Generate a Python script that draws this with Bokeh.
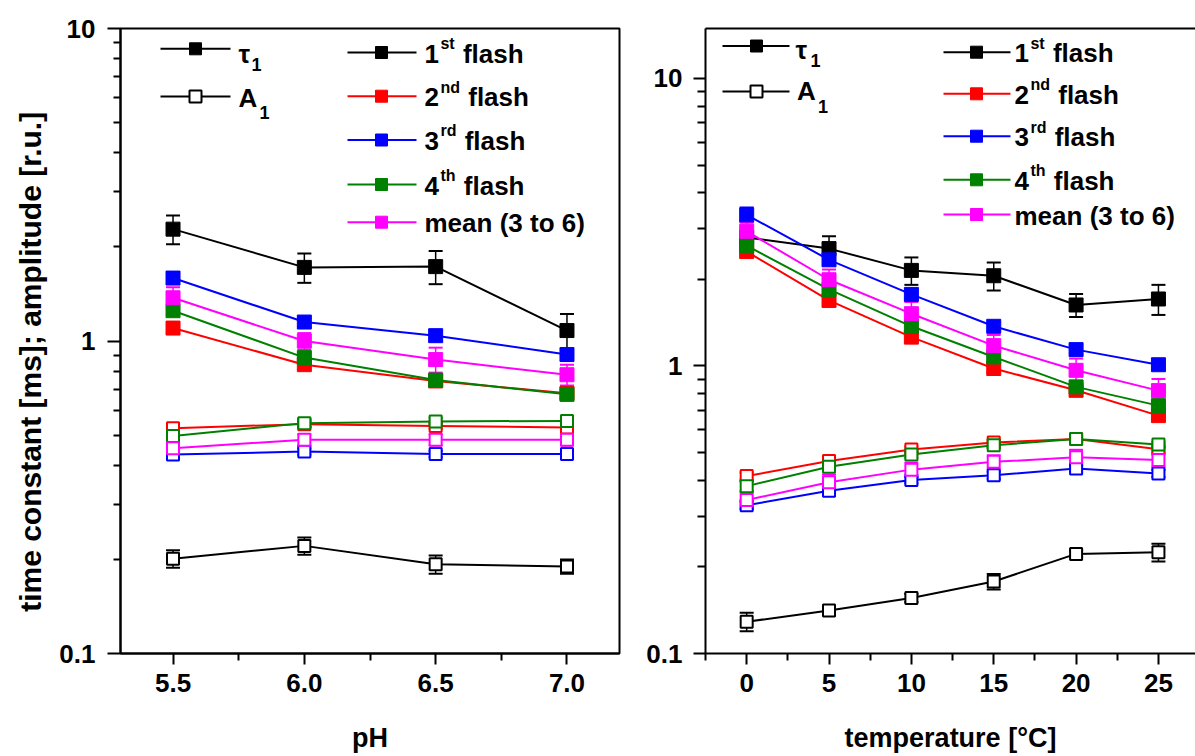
from bokeh.plotting import figure
from bokeh.layouts import row
from bokeh.models import (ColumnDataSource, Whisker, TeeHead, Range1d, FixedTicker,
                          NumeralTickFormatter, LinearAxis, Label, BoxAnnotation)
from bokeh.embed import file_html
from bokeh.resources import INLINE

# ---------------- data: pH dependence ----------------
ph = [5.5, 6.0, 6.5, 7.0]

ph_tau_1 = [2.28, 1.72, 1.73, 1.08]
ph_tau_1_err = [0.24, 0.185, 0.21, 0.14]
ph_tau_2 = [1.10, 0.84, 0.745, 0.68]
ph_tau_2_err = [0.03, 0.03, 0.03, 0.03]
ph_tau_3 = [1.59, 1.15, 1.04, 0.905]
ph_tau_3_err = [0.05, 0.04, 0.04, 0.04]
ph_tau_4 = [1.25, 0.885, 0.75, 0.675]
ph_tau_4_err = [0.04, 0.03, 0.03, 0.03]
ph_tau_mean = [1.375, 1.0, 0.872, 0.78]
ph_tau_mean_err = [0.11, 0.06, 0.08, 0.06]

ph_amp_1 = [0.201, 0.221, 0.193, 0.19]
ph_amp_1_err = [0.013, 0.014, 0.013, 0.010]
ph_amp_2 = [0.526, 0.542, 0.535, 0.529]
ph_amp_2_err = [0.012, 0.012, 0.012, 0.012]
ph_amp_3 = [0.433, 0.443, 0.435, 0.435]
ph_amp_3_err = [0.010, 0.010, 0.010, 0.010]
ph_amp_4 = [0.497, 0.546, 0.553, 0.555]
ph_amp_4_err = [0.015, 0.015, 0.015, 0.015]
ph_amp_mean = [0.454, 0.483, 0.483, 0.483]
ph_amp_mean_err = [0.02, 0.02, 0.02, 0.02]

# ---------------- data: temperature dependence ----------------
temp = [0, 5, 10, 15, 20, 25]

t_tau_1 = [2.80, 2.56, 2.15, 2.06, 1.63, 1.71]
t_tau_1_err = [0.15, 0.265, 0.235, 0.23, 0.15, 0.205]
t_tau_2 = [2.50, 1.69, 1.26, 0.98, 0.823, 0.672]
t_tau_2_err = [0.07, 0.05, 0.04, 0.03, 0.025, 0.02]
t_tau_3 = [3.355, 2.34, 1.774, 1.374, 1.14, 1.01]
t_tau_3_err = [0.2, 0.1, 0.07, 0.05, 0.04, 0.04]
t_tau_4 = [2.62, 1.846, 1.374, 1.075, 0.846, 0.728]
t_tau_4_err = [0.1, 0.07, 0.05, 0.04, 0.03, 0.03]
t_tau_mean = [2.94, 1.995, 1.52, 1.177, 0.966, 0.821]
t_tau_mean_err = [0.23, 0.17, 0.15, 0.105, 0.095, 0.08]

t_amp_1 = [0.129, 0.141, 0.156, 0.178, 0.222, 0.225]
t_amp_1_err = [0.0095, 0.005, 0.005, 0.011, 0.006, 0.016]
t_amp_2 = [0.414, 0.467, 0.512, 0.542, 0.557, 0.513]
t_amp_2_err = [0.012, 0.012, 0.012, 0.012, 0.012, 0.012]
t_amp_3 = [0.328, 0.368, 0.401, 0.417, 0.44, 0.423]
t_amp_3_err = [0.01, 0.01, 0.01, 0.012, 0.012, 0.012]
t_amp_4 = [0.382, 0.446, 0.492, 0.53, 0.557, 0.533]
t_amp_4_err = [0.015, 0.012, 0.012, 0.012, 0.012, 0.012]
t_amp_mean = [0.342, 0.394, 0.436, 0.464, 0.481, 0.471]
t_amp_mean_err = [0.02, 0.025, 0.025, 0.025, 0.03, 0.025]

BLACK, RED, BLUE, GREEN, MAGENTA = "#000000", "#ff0000", "#0000ff", "#008000", "#ff00ff"
FONT = "Liberation Sans"

legend_labels = [("1", "st", "flash"), ("2", "nd", "flash"), ("3", "rd", "flash"),
                 ("4", "th", "flash"), ("mean (3 to 6)", "", "")]
series_colors = [BLACK, RED, BLUE, GREEN, MAGENTA]

# Arial-bold advance widths (em) used to lay out the superscript legend labels
ADV = {"s": .556, "t": .333, "n": .611, "d": .611, "r": .389, "h": .611}
SPACE = .278
BASE_SHIFT = 0.33  # label box offset of an alphabetic baseline, in em


def add_series(p, x, y, err, color, filled):
    lower = [v - e for v, e in zip(y, err)]
    upper = [v + e for v, e in zip(y, err)]
    src = ColumnDataSource(dict(x=x, y=y, lower=lower, upper=upper))
    p.line("x", "y", source=src, line_color=color, line_width=2)
    p.add_layout(Whisker(base="x", upper="upper", lower="lower", source=src,
                         line_color=color, line_width=1.5,
                         upper_head=TeeHead(size=14, line_color=color, line_width=2),
                         lower_head=TeeHead(size=14, line_color=color, line_width=2)))
    if filled:
        p.scatter("x", "y", source=src, marker="square", size=14,
                  fill_color=color, line_color=color, line_width=1)
    else:
        p.scatter("x", "y", source=src, marker="square", size=12,
                  fill_color="white", line_color=color, line_width=2)


def box(p, left, right, bottom, top, **kw):
    p.add_layout(BoxAnnotation(left=left, right=right, bottom=bottom, top=top,
                               left_units="screen", right_units="screen",
                               bottom_units="screen", top_units="screen",
                               fill_alpha=1, line_alpha=1, **kw))


def text(p, fh, x, y, s, size):
    # x from frame left, y (baseline) from frame top
    p.add_layout(Label(x=x, y=fh - y + BASE_SHIFT * size, x_units="screen", y_units="screen",
                       text=s, text_font=FONT, text_font_style="bold",
                       text_font_size=f"{size}px", text_color="black",
                       text_align="left", text_baseline="alphabetic"))


def sample(p, fh, x0, x1, xm, y, color, filled, size=12):
    yb = fh - y
    box(p, x0, x1, yb - 1, yb + 1, fill_color=color, line_color=None)
    h = size / 2
    box(p, xm - h, xm + h, yb - h, yb + h,
        fill_color=color if filled else "white", line_color=color,
        line_width=1 if filled else 2)


def style_axes(p, ytick_out, yminor_out, ystand):
    xa, ya = p.below[0], p.left[0]
    for ax in (xa, ya):
        ax.axis_line_width = 2
        ax.major_tick_line_width = 2
        ax.minor_tick_line_width = 2
        ax.major_tick_in = 0
        ax.minor_tick_in = 0
        ax.major_label_text_font = FONT
        ax.major_label_text_font_style = "bold"
        ax.major_label_text_font_size = "26px"
        ax.major_label_text_color = "black"
        ax.axis_label_text_font = FONT
        ax.axis_label_text_font_style = "bold"
        ax.axis_label_text_color = "black"
    xa.major_tick_out = 11
    xa.minor_tick_out = 7
    xa.major_label_standoff = 9
    xa.axis_label_text_font_size = "27px"
    xa.axis_label_standoff = 28
    ya.major_tick_out = ytick_out
    ya.minor_tick_out = yminor_out
    ya.major_label_standoff = ystand
    ya.ticker = FixedTicker(ticks=[0.1, 1, 10],
                            minor_ticks=[0.2, 0.3, 0.4, 0.5, 0.6, 0.7, 0.8, 0.9,
                                         2, 3, 4, 5, 6, 7, 8, 9])
    ya.formatter = NumeralTickFormatter(format="0.[0]")
    p.grid.visible = False
    return xa, ya


def draw_legends(p, fh, lg):
    # tau / amplitude key
    sample(p, fh, *lg["key_line"], lg["key_tau_y"], BLACK, True)
    sample(p, fh, *lg["key_line"], lg["key_amp_y"], BLACK, False)
    tx, ty, sx, sy = lg["tau_text"]
    text(p, fh, tx, ty, "τ", 26)
    text(p, fh, sx, sy, "1", 18)
    tx, ty, sx, sy = lg["amp_text"]
    text(p, fh, tx, ty, "A", 26)
    text(p, fh, sx, sy, "1", 18)
    # flash key
    fs, ss = 26, 16
    for (num, sup, rest), color, y in zip(legend_labels, series_colors, lg["rows"]):
        sample(p, fh, *lg["flash_line"], y, color, True)
        base = y + 9.6
        x = lg["flash_text"]
        text(p, fh, x, base, num, fs)
        if sup:
            xs = x + 0.556 * fs + 1.5
            text(p, fh, xs, base - 13.5, sup, ss)
            xf = xs + sum(ADV[c] for c in sup) * ss + SPACE * fs + 1
            text(p, fh, xf, base, rest, fs)


FH = 626

# ---------------- left panel: pH ----------------
# trailing no-break spaces push the vertical title a little below the frame's middle
y_title = "time constant [ms]; amplitude [r.u.]" + "\u00a0" * 5
p1 = figure(width=643, height=756, x_range=Range1d(5.3, 7.2), y_range=Range1d(0.1, 10),
            y_axis_type="log", output_backend="svg", toolbar_location=None, title=None,
            min_border_left=120, min_border_right=24, min_border_top=27, min_border_bottom=103,
            x_axis_label="pH", y_axis_label=y_title)
p1.outline_line_color = "black"
p1.outline_line_width = 2
p1.outline_line_alpha = 1
xa1, ya1 = style_axes(p1, 13, 7, 12)
xa1.ticker = FixedTicker(ticks=ph, minor_ticks=[5.75, 6.25, 6.75])
xa1.formatter = NumeralTickFormatter(format="0.0")
ya1.axis_label_text_font_size = "30px"
ya1.axis_label_standoff = 9

ph_sets = [(ph_amp_1, ph_amp_1_err, ph_tau_1, ph_tau_1_err),
           (ph_amp_2, ph_amp_2_err, ph_tau_2, ph_tau_2_err),
           (ph_amp_3, ph_amp_3_err, ph_tau_3, ph_tau_3_err),
           (ph_amp_4, ph_amp_4_err, ph_tau_4, ph_tau_4_err),
           (ph_amp_mean, ph_amp_mean_err, ph_tau_mean, ph_tau_mean_err)]
for (a, ae, t, te), c in zip(ph_sets, series_colors):
    add_series(p1, ph, a, ae, c, False)
for (a, ae, t, te), c in zip(ph_sets, series_colors):
    add_series(p1, ph, t, te, c, True)

draw_legends(p1, FH, dict(
    key_line=(40, 110, 75), key_tau_y=21.3, key_amp_y=69,
    tau_text=(118, 34.7, 131, 43), amp_text=(118, 79, 139, 91.3),
    flash_line=(227, 296, 261), flash_text=304,
    rows=[25, 68.7, 112.5, 157, 194.7]))

# ---------------- right panel: temperature ----------------
p2 = figure(width=552, height=756, x_range=Range1d(-2.5, 27.25), y_range=Range1d(0.1, 14.92),
            y_axis_type="log", output_backend="svg", toolbar_location=None, title=None,
            min_border_left=62, min_border_right=0, min_border_top=28, min_border_bottom=102,
            x_axis_label="temperature [°C]")
p2.outline_line_color = None
xa2, ya2 = style_axes(p2, 12, 8, 11)
xa2.ticker = FixedTicker(ticks=temp, minor_ticks=[-2.5, 2.5, 7.5, 12.5, 17.5, 22.5])
xa2.formatter = NumeralTickFormatter(format="0")
# plain line closing the frame along the top edge
top_axis = LinearAxis(ticker=FixedTicker(ticks=[]), axis_line_width=2,
                      major_tick_out=0, minor_tick_out=0, major_label_standoff=0,
                      major_label_text_font_size="0px")
p2.add_layout(top_axis, "above")

t_sets = [(t_amp_1, t_amp_1_err, t_tau_1, t_tau_1_err),
          (t_amp_2, t_amp_2_err, t_tau_2, t_tau_2_err),
          (t_amp_3, t_amp_3_err, t_tau_3, t_tau_3_err),
          (t_amp_4, t_amp_4_err, t_tau_4, t_tau_4_err),
          (t_amp_mean, t_amp_mean_err, t_tau_mean, t_tau_mean_err)]
for (a, ae, t, te), c in zip(t_sets, series_colors):
    add_series(p2, temp, a, ae, c, False)
for (a, ae, t, te), c in zip(t_sets, series_colors):
    add_series(p2, temp, t, te, c, True)

draw_legends(p2, FH, dict(
    key_line=(17, 84, 51), key_tau_y=18.5, key_amp_y=64,
    tau_text=(90, 31.3, 105, 38.7), amp_text=(91.6, 72, 112.5, 84.7),
    flash_line=(238, 305, 271), flash_text=309,
    rows=[24.7, 66.3, 108.7, 152.3, 187]))

layout = row(p1, p2)
open("out.html", "w").write(file_html(layout, INLINE))
